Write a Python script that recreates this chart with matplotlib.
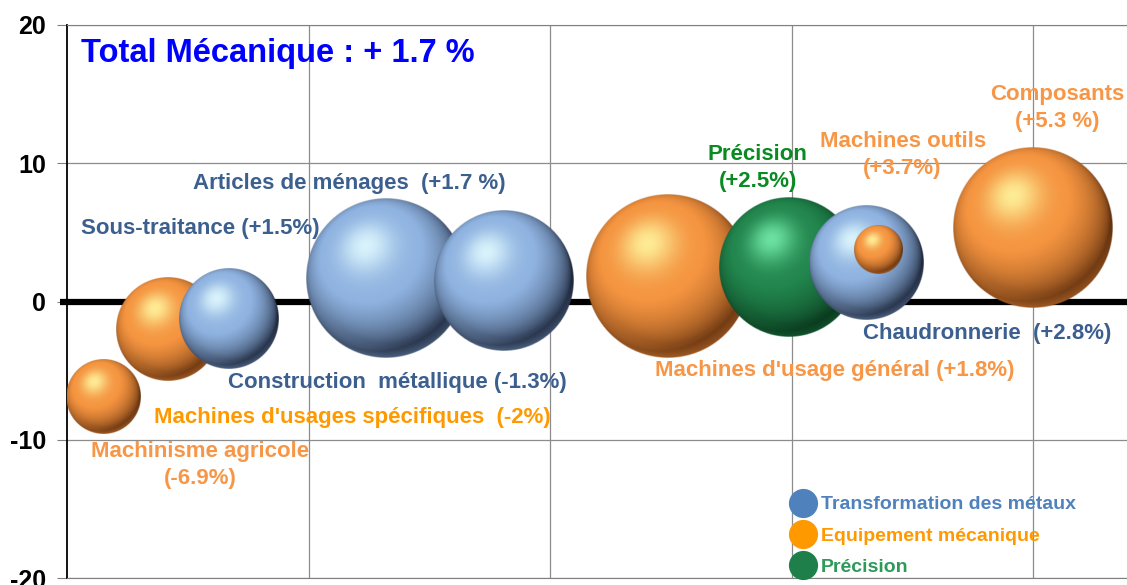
import numpy as np
import matplotlib
matplotlib.use("Agg")
from matplotlib import pyplot as plt
from matplotlib.lines import Line2D

plt.rcParams['font.family'] = ['Liberation Sans', 'DejaVu Sans']
plt.rcParams['font.weight'] = 'bold'
plt.rcParams['axes.unicode_minus'] = False

# secteurs : position x, evolution (%), poids (taille de bulle), famille
secteurs = ["Machinisme agricole", "Machines d'usages spécifiques", "Construction métallique",
            "Articles de ménages", "Sous-traitance", "Machines d'usage général",
            "Précision", "Chaudronnerie", "Machines outils", "Composants"]
pos_x = [0.15, 0.42, 0.67, 1.32, 1.81, 2.49, 2.99, 3.31, 3.36, 4.00]
evolution = [-6.9, -2.0, -1.3, 1.7, 1.5, 1.8, 2.5, 2.8, 3.7, 5.3]
poids = [13.7, 27.0, 25.0, 64.0, 49.0, 67.0, 49.0, 32.5, 5.8, 64.0]
famille = ["meca", "meca", "metal", "metal", "metal", "meca", "prec", "metal", "meca", "meca"]

legende = ["Transformation des métaux", "Equipement mécanique", "Précision"]
legende_cles = ["metal", "meca", "prec"]

etiquettes = ["Machinisme agricole\n(-6.9%)", "Machines d'usages spécifiques  (-2%)",
              "Construction  métallique (-1.3%)", "Articles de ménages  (+1.7 %)",
              "Sous-traitance (+1.5%)", "Machines d'usage général (+1.8%)",
              "Précision\n(+2.5%)", "Chaudronnerie  (+2.8%)",
              "Machines outils\n(+3.7%)", "Composants\n(+5.3 %)"]
etiq_x = [0.55, 1.18, 1.37, 1.17, 0.55, 3.18, 2.86, 3.81, 3.46, 4.10]
etiq_y = [-11.8, -8.4, -5.85, 8.55, 5.3, -5.0, 9.65, -2.35, 10.6, 14.0]
etiq_col = ["#F79646", "#FF9900", "#3B5F8F", "#3B5F8F", "#3B5F8F", "#F79646",
            "#0A8A22", "#3B5F8F", "#F79646", "#F79646"]

# couleurs des spheres : sombre, base, reflet
teintes = {
    "metal": ((0.12, 0.16, 0.24), (0.56, 0.70, 0.88), (0.88, 0.98, 1.00)),
    "meca": ((0.40, 0.20, 0.06), (0.96, 0.58, 0.25), (1.00, 0.96, 0.62)),
    "prec": ((0.03, 0.20, 0.10), (0.13, 0.52, 0.30), (0.45, 0.92, 0.66)),
}
legende_couleurs = {"metal": "#4F81BD", "meca": "#FF9900", "prec": "#1E7F4A"}
legende_txt = {"metal": "#4F81BD", "meca": "#FF9900", "prec": "#2E9A5A"}


def sphere(fam, n=240):
    """ image RGBA d'une boule eclairee en haut a gauche """
    dark, base, hl = [np.array(c) for c in teintes[fam]]
    t = np.linspace(-1, 1, n)
    u, v = np.meshgrid(t, t)
    r = np.sqrt(u ** 2 + v ** 2)
    z = np.sqrt(np.clip(1 - r ** 2, 0, 1))
    L = np.array([-0.25, 0.40, 0.88])
    L = L / np.linalg.norm(L)
    d = np.clip(u * L[0] + v * L[1] + z * L[2], 0, 1)
    k = d[..., None] ** 0.8
    col = dark + (base - dark) * np.clip(k * 1.25, 0, 1)
    spec = (d ** 16)[..., None]
    col = col + (hl - col) * spec * 0.9
    # leger reflet en bas
    rim = np.clip((r - 0.82) / 0.18, 0, 1) * np.clip(-v, 0, 1) * 0.4
    col = col + (base - col) * rim[..., None]
    alpha = np.clip((1 - r) * n * 0.5 + 0.5, 0, 1)
    return np.dstack([np.clip(col, 0, 1), alpha])


fig = plt.figure(figsize=(11.27, 5.85), dpi=100)
ax = fig.add_axes([67 / 1127, 7 / 585, 1060 / 1127, 553 / 585])
xmax = 1060 / 241.5
ax.set_xlim(0, xmax)
ax.set_ylim(-20, 20)

ax.set_xticks([1, 2, 3, 4])
ax.set_xticklabels([])
ax.tick_params(axis='x', length=0)
ax.set_yticks([-20, -10, 0, 10, 20])
ax.tick_params(axis='y', length=7, color='#808080', labelsize=18, pad=8)
for lab in ax.get_yticklabels():
    lab.set_fontweight('bold')
ax.grid(True, color='#8C8C8C', lw=0.9)
ax.set_axisbelow(True)
ax.spines['right'].set_visible(False)
ax.spines['top'].set_color('#808080')
ax.spines['bottom'].set_color('#808080')
ax.spines['left'].set_color('black')
ax.spines['left'].set_linewidth(1.3)

ax.plot([-0.03, xmax], [0, 0], color='black', lw=4.5, solid_capstyle='butt',
        clip_on=False, zorder=2)

px_x = ax.bbox.width / xmax
px_y = ax.bbox.height / 40.0
r_max = 80.0
p_max = 64.0
for i in range(len(secteurs)):
    r = r_max * np.sqrt(poids[i] / p_max)
    rx, ry = r / px_x, r / px_y
    ax.imshow(sphere(famille[i]), origin='lower', aspect='auto', interpolation='bilinear',
              extent=(pos_x[i] - rx, pos_x[i] + rx, evolution[i] - ry, evolution[i] + ry),
              zorder=3 + (100 - poids[i]) / 100.0)

ax.set_xlim(0, xmax)
ax.set_ylim(-20, 20)

for i in range(len(secteurs)):
    ax.text(etiq_x[i], etiq_y[i], etiquettes[i], color=etiq_col[i], fontsize=16,
            fontweight='bold', ha='center', va='center', linespacing=1.38, zorder=20)

ax.text(0.06, 17.95, "Total Mécanique : + 1.7 %", color='#0000FF', fontsize=23.5,
        fontweight='bold', ha='left', va='center', zorder=20)

handles = [Line2D([], [], marker='o', ls='', markersize=20, color=legende_couleurs[c])
           for c in legende_cles]
leg = ax.legend(handles, legende, loc='upper left', bbox_to_anchor=(781 / 1127, 1 - 486 / 585),
                bbox_transform=fig.transFigure, frameon=False, fontsize=14,
                handletextpad=0.25, labelspacing=0.7, borderpad=0, handlelength=1.3)
for txt, c in zip(leg.get_texts(), legende_cles):
    txt.set_color(legende_txt[c])
    txt.set_fontweight('bold')
leg.set_zorder(25)

fig.savefig('out.png', dpi=100)
